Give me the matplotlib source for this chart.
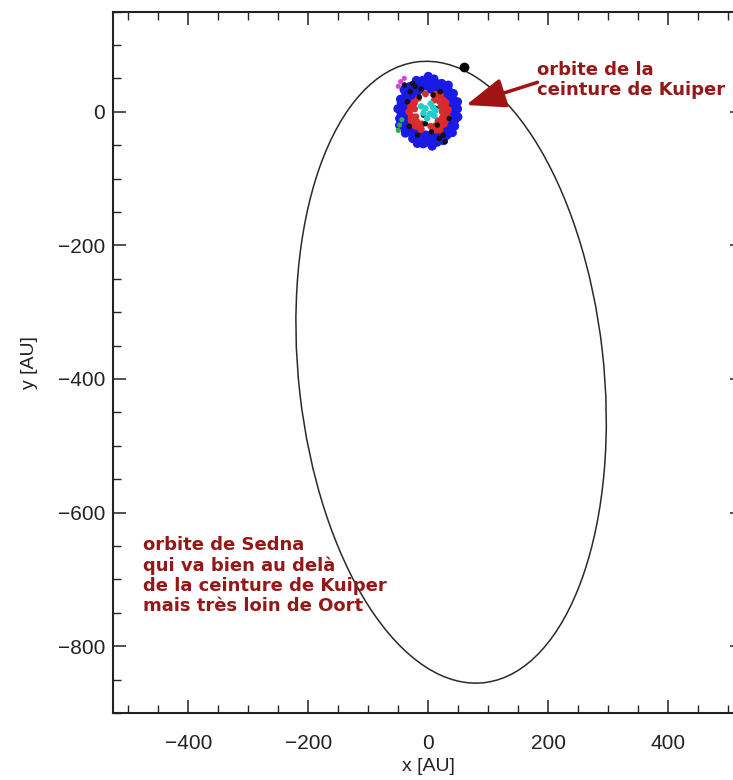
import numpy as np
import matplotlib
matplotlib.use('Agg')
import matplotlib.pyplot as plt
from matplotlib.patches import Ellipse
from matplotlib.ticker import MultipleLocator

# ---------------- data ----------------
x_major = [-400, -200, 0, 200, 400]
y_major = [-800, -600, -400, -200, 0]

# projected orbit of Sedna (AU)
sedna_center = (38, -390)
sedna_width = 508      # minor axis (2b)
sedna_height = 936     # major axis (2a)
sedna_angle = 7.15     # tilt in degrees
sedna_now_x = [60]
sedna_now_y = [67]

# Kuiper belt objects, outer ring (polar, AU / deg)
kbo_blue_deg = [0, 5, 11, 17, 22, 28, 33, 39, 45, 50, 56, 62, 67, 73, 79, 84, 90, 96, 101, 107,
                113, 118, 124, 130, 135, 141, 147, 152, 158, 164, 169, 175, 181, 186, 192, 198,
                203, 209, 215, 220, 226, 232, 237, 243, 249, 254, 260, 266, 271, 277, 283, 288,
                294, 300, 305, 311, 317, 322, 328, 334, 339, 345, 351, 356]
kbo_blue_r = [44, 49, 40, 51, 46, 38, 50, 43, 47, 52, 41, 48, 45, 39, 50, 46, 53, 42, 48, 44,
              51, 40, 47, 49, 43, 52, 45, 38, 50, 47, 42, 51, 46, 40, 49, 44, 52, 41, 47, 50,
              43, 38, 48, 45, 51, 42, 49, 46, 40, 52, 44, 48, 39, 50, 45, 47, 41, 51, 44, 49,
              38, 46, 50, 43]
kbo_blue2_deg = [8, 23, 38, 53, 68, 83, 98, 113, 128, 143, 158, 173, 188, 203, 218, 233, 248,
                 263, 278, 293, 308, 323, 338, 353]
kbo_blue2_r = [36, 33, 38, 35, 37, 34, 39, 36, 33, 37, 35, 38, 34, 36, 39, 33, 37, 35, 38, 34,
               36, 39, 35, 37]
kbo_red_deg = [295, 305, 315, 325, 335, 345, 355, 5, 15, 25, 35, 50, 65, 150, 165, 180, 195,
               205, 215, 225, 235, 245]
kbo_red_r = [30, 33, 29, 32, 31, 34, 30, 33, 29, 32, 30, 31, 28, 27, 30, 32, 29, 31, 28, 30, 27, 29]
kbo_red2_deg = [280, 300, 320, 340, 0, 20, 40, 60, 200, 220, 240, 170, 130, 100]
kbo_red2_r = [22, 24, 21, 25, 23, 22, 24, 20, 22, 24, 21, 23, 26, 27]
kbo_black_x = [-30, -22, -15, -35, -8, 5, 18, 25, 12, -5, 28, -18, 8, -40, 35, -26, -12, 15, 20, -32]
kbo_black_y = [30, 38, 22, 15, -5, -30, -40, -35, 5, -18, -45, -35, 25, 40, -10, 42, 34, -20, 30, -22]
kbo_cyan_x = [-5, 3, 8, -2, 10, -8, 4, 12, -12]
kbo_cyan_y = [5, -3, 6, -10, -6, -2, 12, 2, 8]
kbo_green_x = [-48, -50, -44]
kbo_green_y = [-20, -28, -12]
kbo_magenta_x = [-46, -40, -50]
kbo_magenta_y = [45, 50, 38]

txt_kuiper = "orbite de la\nceinture de Kuiper"
txt_sedna = "orbite de Sedna\nqui va bien au delà\nde la ceinture de Kuiper\nmais très loin de Oort"

# ---------------- figure ----------------
W, H = 733, 780
fig = plt.figure(figsize=(W / 100, H / 100), dpi=100)
ax = fig.add_axes([113.3 / W, (H - 712.9) / H, 630 / W, 701.4 / H])
ax.set_xlim(-525, 525)
ax.set_ylim(-900, 150)


def polar(r, d):
    r = np.asarray(r, float)
    t = np.deg2rad(d)
    return r * np.cos(t), r * np.sin(t)


# Sedna orbit
ax.add_patch(Ellipse(sedna_center, sedna_width, sedna_height, angle=sedna_angle,
                     fill=False, ec='#2a2a2a', lw=1.1, zorder=2))

bx, by = polar(kbo_blue_r, kbo_blue_deg)
ax.scatter(bx, by, s=42, c='#1a1ae6', edgecolors='none', zorder=3)
bx2, by2 = polar(kbo_blue2_r, kbo_blue2_deg)
ax.scatter(bx2, by2, s=42, c='#1a1ae6', edgecolors='none', zorder=3)
rx, ry = polar(kbo_red_r, kbo_red_deg)
ax.scatter(rx, ry, s=30, c='#e02828', edgecolors='none', zorder=4)
rx2, ry2 = polar(kbo_red2_r, kbo_red2_deg)
ax.scatter(rx2, ry2, s=24, c='#d03030', edgecolors='none', zorder=4)
ax.scatter(kbo_black_x, kbo_black_y, s=16, c='#111111', edgecolors='none', zorder=5)
ax.scatter(kbo_cyan_x, kbo_cyan_y, s=22, c='#20d0c8', edgecolors='none', zorder=5)
ax.scatter(kbo_green_x, kbo_green_y, s=14, c='#30b040', edgecolors='none', zorder=5)
ax.scatter(kbo_magenta_x, kbo_magenta_y, s=14, c='#e040e0', edgecolors='none', zorder=5)

ax.plot(sedna_now_x, sedna_now_y, 'o', color='black', ms=6, zorder=6)

# annotations
tcol = '#951818'
ax.text(181, 47, txt_kuiper, ha='left', va='center', color=tcol, fontsize=13,
        fontweight='bold', family='DejaVu Sans', linespacing=1.15, zorder=7)
ax.annotate('', xy=(63, 10), xytext=(182, 44),
            arrowprops=dict(arrowstyle='-|>,head_length=1.1,head_width=0.42',
                            color='#a01414', lw=2.5, mutation_scale=22,
                            shrinkA=0, shrinkB=0), zorder=7)
ax.text(-476, -694, txt_sedna, ha='left', va='center', color=tcol, fontsize=13,
        fontweight='bold', family='DejaVu Sans', linespacing=1.15, zorder=7)

# axes styling
ax.set_xticks(x_major)
ax.set_yticks(y_major)
ax.xaxis.set_minor_locator(MultipleLocator(50))
ax.yaxis.set_minor_locator(MultipleLocator(50))
ax.set_xticklabels([f"\u2212{abs(v)}" if v < 0 else str(v) for v in x_major])
ax.set_yticklabels([f"\u2212{abs(v)}" if v < 0 else str(v) for v in y_major])
ax.tick_params(which='both', direction='in', top=True, right=True, color='#222222')
ax.tick_params(which='major', length=9.5, width=1.1, labelsize=15)
ax.tick_params(which='minor', length=5.5, width=1.0)
ax.tick_params(axis='x', pad=15)
ax.tick_params(axis='y', pad=6)
for lab in ax.get_xticklabels() + ax.get_yticklabels():
    lab.set_family('Liberation Sans')
    lab.set_color('#222222')
for sp in ax.spines.values():
    sp.set_linewidth(1.5)
    sp.set_color('#222222')

ax.set_xlabel('x [AU]', fontsize=14, family='Liberation Sans', color='#222222', labelpad=4)
ax.set_ylabel('y [AU]', fontsize=14, family='Liberation Sans', color='#222222', labelpad=14)

fig.savefig('out.png', dpi=100)
